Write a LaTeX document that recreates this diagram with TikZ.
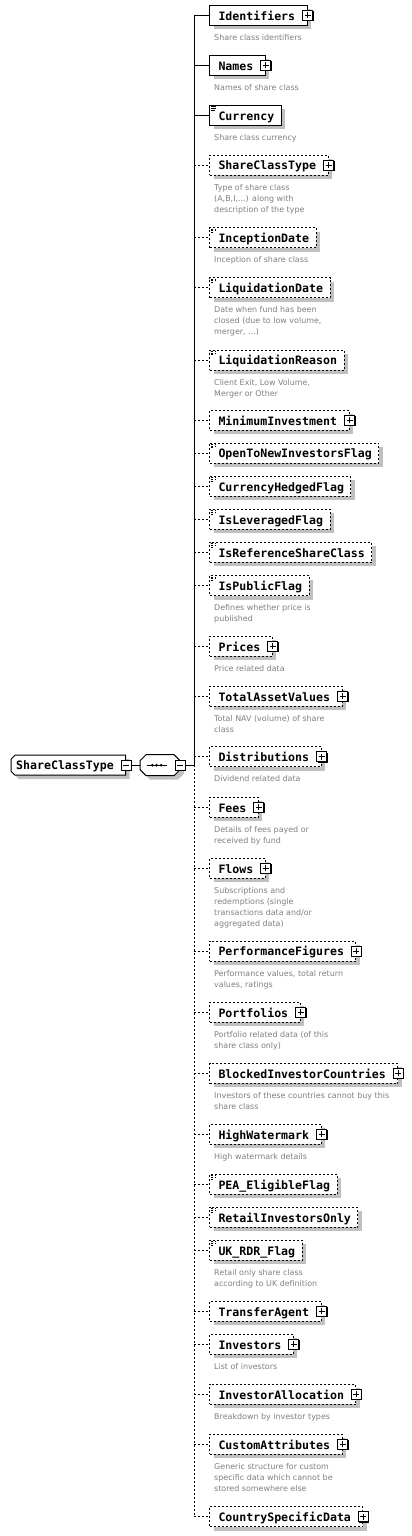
\documentclass[tikz,border=0pt]{standalone}
\usepackage{fontspec}
\usetikzlibrary{shadows,backgrounds}
\newfontfamily\namefont{DejaVu Sans Mono}
\newfontfamily\descfamily{DejaVu Sans}
\definecolor{desccol}{RGB}{128,128,128}
\definecolor{shadowcol}{RGB}{192,192,192}
\newcommand\pd[2]{\hspace*{9pt}#1\hspace*{#2pt}}
\newcommand\dl[1]{\begin{tabular}[t]{@{}l@{}}#1\end{tabular}}
\begin{document}
\begin{tikzpicture}[x=1pt,y=-1pt,
  shad/.style={drop shadow={shadow xshift=4pt,shadow yshift=-4pt,fill=shadowcol,opacity=1,draw=none}},
  plainnode/.style={inner sep=0pt,minimum height=20pt,
    text height=10.5pt,text depth=1pt,font=\namefont\bfseries\fontsize{11.58pt}{14pt}\selectfont,
    anchor=west},
  elbox/.style={plainnode,draw=black,line width=1pt,fill=white,shad},
  optl/.style={dash pattern=on 2pt off 2pt},
  conn/.style={draw=black,line width=1pt},
  outline/.style={fill=white,draw=black,line width=1pt},
  shadowfill/.style={fill=shadowcol},
  simp/.style={path picture={\draw[line width=0.6pt]
     ([xshift=1.5pt,yshift=-1.3pt]path picture bounding box.north west) -- ++(5pt,0pt)
     ([xshift=1.5pt,yshift=-3pt]path picture bounding box.north west) -- ++(5pt,0pt)
     ([xshift=1.5pt,yshift=-4.7pt]path picture bounding box.north west) -- ++(4pt,0pt);}},
  iconbox/.style={draw=black,line width=1pt,fill=white,minimum size=10pt,inner sep=0pt,
    drop shadow={shadow xshift=1pt,shadow yshift=-1pt,fill=black,opacity=1,draw=none}},
  plusbox/.style={iconbox,path picture={\draw[line width=1pt]
     ([xshift=-3pt]path picture bounding box.center) -- ([xshift=3pt]path picture bounding box.center)
     ([yshift=-3pt]path picture bounding box.center) -- ([yshift=3pt]path picture bounding box.center);}},
  minusbox/.style={iconbox,path picture={\draw[line width=1pt]
     ([xshift=-3pt]path picture bounding box.center) -- ([xshift=3pt]path picture bounding box.center);}},
  desc/.style={anchor=base west,inner sep=0pt,text=desccol,font=\descfamily\fontsize{7.95pt}{11pt}\selectfont}
]
\useasboundingbox (0,0) rectangle (412,1536);

% root and sequence (outlines drawn behind on the background layer)
\node[plainnode] (root) at (11,765.2) {\hspace*{5pt}ShareClassType\hspace*{12pt}};
\node[plainnode,minimum width=40pt,minimum height=21pt] (seq) at (140,765.2) {};
\begin{pgfonlayer}{background}
  \fill[white] (0,0) rectangle (412,1536);
  % root
  \fill[shadowfill] (19,759.2) -- (129.7,759.2) -- (129.7,779.2) -- (19,779.2) -- (15,775.2) -- (15,763.2) -- cycle;
  \path[outline] (15,755.2) -- (125.7,755.2) -- (125.7,775.2) -- (15,775.2) -- (11,771.2) -- (11,759.2) -- cycle;
  % sequence
  \fill[shadowfill] (150,758.7) -- (178,758.7) -- (184,764.7) -- (184,773.7) -- (178,779.7) -- (150,779.7) -- (144,773.7) -- (144,764.7) -- cycle;
  \path[outline] (146,754.7) -- (174,754.7) -- (180,760.7) -- (180,769.7) -- (174,775.7) -- (146,775.7) -- (140,769.7) -- (140,760.7) -- cycle;
  \draw[line width=1pt] (146.7,765.2) -- (166.7,765.2);
  \fill (152.3,765.2) circle (1.5pt) (156.7,765.2) circle (1.5pt) (161.1,765.2) circle (1.5pt);
\end{pgfonlayer}
\node[minusbox] (rootminus) at (root.east) {};
\node[minusbox] (seqminus) at (seq.east) {};

\coordinate (spinetop) at (194,15.3);
\coordinate (spinemid) at (194,765.2);
\coordinate (spinebot) at (194,1516.7);

% elements
\node[elbox] (e1) at (209,15.3) {\pd{Identifiers}{12}};
\node[plusbox] at (e1.east) {};
\node[desc] (d1) at (214,40.3) {\dl{Share class identifiers}};

\node[elbox] (e2) at (209,65.3) {\pd{Names}{12}};
\node[plusbox] at (e2.east) {};
\node[desc] (d2) at (214,90.3) {\dl{Names of share class}};

\node[elbox,simp] (e3) at (209,115.3) {\pd{Currency}{7}};
\node[desc] (d3) at (214,140.3) {\dl{Share class currency}};

\node[elbox,optl] (e4) at (209,165.2) {\pd{ShareClassType}{12}};
\node[plusbox] at (e4.east) {};
\node[desc] (d4) at (214,190.2) {\dl{Type of share class\\(A,B,I,...) along with\\description of the type}};

\node[elbox,optl,simp] (e5) at (209,237.5) {\pd{InceptionDate}{7}};
\node[desc] (d5) at (214,262.5) {\dl{Inception of share class}};

\node[elbox,optl,simp] (e6) at (209,287.5) {\pd{LiquidationDate}{7}};
\node[desc] (d6) at (214,312.5) {\dl{Date when fund has been\\closed (due to low volume,\\merger, ...)}};

\node[elbox,optl,simp] (e7) at (209,360) {\pd{LiquidationReason}{7}};
\node[desc] (d7) at (214,385) {\dl{Client Exit, Low Volume,\\Merger or Other}};

\node[elbox,optl] (e8) at (209,420.3) {\pd{MinimumInvestment}{12}};
\node[plusbox] at (e8.east) {};

\node[elbox,optl,simp] (e9) at (209,453) {\pd{OpenToNewInvestorsFlag}{7}};
\node[elbox,optl,simp] (e10) at (209,486.3) {\pd{CurrencyHedgedFlag}{7}};
\node[elbox,optl,simp] (e11) at (209,519.3) {\pd{IsLeveragedFlag}{7}};
\node[elbox,optl,simp] (e12) at (209,552.3) {\pd{IsReferenceShareClass}{7}};

\node[elbox,optl,simp] (e13) at (209,585.5) {\pd{IsPublicFlag}{7}};
\node[desc] (d13) at (214,610.5) {\dl{Defines whether price is\\published}};

\node[elbox,optl] (e14) at (209,646.3) {\pd{Prices}{12}};
\node[plusbox] at (e14.east) {};
\node[desc] (d14) at (214,671.3) {\dl{Price related data}};

\node[elbox,optl] (e15) at (209,696.3) {\pd{TotalAssetValues}{12}};
\node[plusbox] at (e15.east) {};
\node[desc] (d15) at (214,721.3) {\dl{Total NAV (volume) of share\\class}};

\node[elbox,optl] (e16) at (209,756.7) {\pd{Distributions}{12}};
\node[plusbox] at (e16.east) {};
\node[desc] (d16) at (214,781.7) {\dl{Dividend related data}};

\node[elbox,optl] (e17) at (209,807.3) {\pd{Fees}{12}};
\node[plusbox] at (e17.east) {};
\node[desc] (d17) at (214,832.3) {\dl{Details of fees payed or\\received by fund}};

\node[elbox,optl] (e18) at (209,868.3) {\pd{Flows}{12}};
\node[plusbox] at (e18.east) {};
\node[desc] (d18) at (214,893.3) {\dl{Subscriptions and\\redemptions (single\\transactions data and/or\\aggregated data)}};

\node[elbox,optl] (e19) at (209,951) {\pd{PerformanceFigures}{12}};
\node[plusbox] at (e19.east) {};
\node[desc] (d19) at (214,976) {\dl{Performance values, total return\\values, ratings}};

\node[elbox,optl] (e20) at (209,1012.3) {\pd{Portfolios}{12}};
\node[plusbox] at (e20.east) {};
\node[desc] (d20) at (214,1037.3) {\dl{Portfolio related data (of this\\share class only)}};

\node[elbox,optl] (e21) at (209,1073.3) {\pd{BlockedInvestorCountries}{12}};
\node[plusbox] at (e21.east) {};
\node[desc] (d21) at (214,1098.3) {\dl{Investors of these countries cannot buy this\\share class}};

\node[elbox,optl] (e22) at (209,1134.3) {\pd{HighWatermark}{12}};
\node[plusbox] at (e22.east) {};
\node[desc] (d22) at (214,1159.3) {\dl{High watermark details}};

\node[elbox,optl,simp] (e23) at (209,1184.3) {\pd{PEA\_EligibleFlag}{7}};
\node[elbox,optl,simp] (e24) at (209,1217.3) {\pd{RetailInvestorsOnly}{7}};

\node[elbox,optl,simp] (e25) at (209,1250.3) {\pd{UK\_RDR\_Flag}{7}};
\node[desc] (d25) at (214,1275.3) {\dl{Retail only share class\\according to UK definition}};

\node[elbox,optl] (e26) at (209,1311.3) {\pd{TransferAgent}{12}};
\node[plusbox] at (e26.east) {};

\node[elbox,optl] (e27) at (209,1344.3) {\pd{Investors}{12}};
\node[plusbox] at (e27.east) {};
\node[desc] (d27) at (214,1369.3) {\dl{List of investors}};

\node[elbox,optl] (e28) at (209,1394.3) {\pd{InvestorAllocation}{12}};
\node[plusbox] at (e28.east) {};
\node[desc] (d28) at (214,1419.3) {\dl{Breakdown by investor types}};

\node[elbox,optl] (e29) at (209,1444.3) {\pd{CustomAttributes}{12}};
\node[plusbox] at (e29.east) {};
\node[desc] (d29) at (214,1469.3) {\dl{Generic structure for custom\\specific data which cannot be\\stored somewhere else}};

\node[elbox,optl] (e30) at (209,1516.7) {\pd{CountrySpecificData}{12}};
\node[plusbox] at (e30.east) {};

% connectors
\draw[conn] (rootminus.east) -- (seq.west);
\draw[conn] (seqminus.east) -- (spinemid);
\draw[conn] (spinetop) -- (spinemid);
\draw[conn,optl] (spinemid) -- (spinebot);
\foreach \i in {1,2,3} {\draw[conn] (e\i.west -| spinetop) -- (e\i.west);}
\foreach \i in {4,...,30} {\draw[conn,optl] (e\i.west -| spinetop) -- (e\i.west);}
\end{tikzpicture}
\end{document}
